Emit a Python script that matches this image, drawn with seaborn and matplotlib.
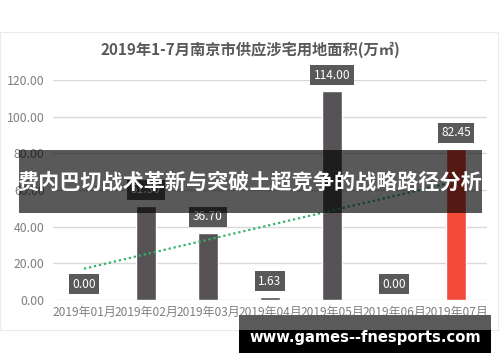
import numpy as np
import pandas as pd
import matplotlib
matplotlib.use("Agg")
import matplotlib.pyplot as plt
from matplotlib.patches import Rectangle
import seaborn as sns

months = ["2019年01月", "2019年02月", "2019年03月", "2019年04月",
          "2019年05月", "2019年06月", "2019年07月"]
values = [0.00, 51.30, 36.70, 1.63, 114.00, 0.00, 82.45]
bar_colors = ["#575256", "#575256", "#575256", "#575256",
              "#575256", "#575256", "#f44a3a"]
yticks = [0, 20, 40, 60, 80, 100, 120]
title = "2019年1-7月南京市供应涉宅用地面积(万㎡)"
banner = "费内巴切战术革新与突破土超竞争的战略路径分析"
watermark = "www.games--fnesports.com"

sns.set_theme(style="white")
plt.rcParams["font.family"] = ["Noto Sans CJK SC", "DejaVu Sans"]

df = pd.DataFrame({"month": months, "value": values})

fig = plt.figure(figsize=(5.0, 3.62), dpi=100)
ax = fig.add_axes([0.106, 0.1713, 0.868, 0.6077])

sns.barplot(data=df, x="month", y="value", hue="month", palette=bar_colors,
            legend=False, width=0.31, ax=ax, zorder=2, saturation=1)

# linear trendline (Excel-style)
xs = np.arange(len(values))
k, b = np.polyfit(xs, values, 1)
ax.plot([xs[0], xs[-1]], [k * xs[0] + b, k * xs[-1] + b], linestyle=(0, (1, 1.3)),
        color="#33b36b", lw=1.6, zorder=3)

ax.set_ylim(0, 120)
ax.set_xlim(-0.5, len(values) - 0.5)
ax.set_yticks(yticks)
ax.set_yticklabels([f"{v:.2f}" for v in yticks])
ax.yaxis.grid(True, color="#d9d9d9", lw=1.0, zorder=0)
ax.set_axisbelow(True)
for s in ax.spines.values():
    s.set_visible(False)
ax.set_xlabel("")
ax.set_ylabel("")
ax.tick_params(axis="y", labelsize=8.8, labelcolor="#7f7f7f", length=0, pad=6)
ax.tick_params(axis="x", labelsize=8.6, labelcolor="#7f7f7f", length=0, pad=4)

for i, v in enumerate(values):
    ax.annotate(f"{v:.2f}", xy=(i, v), xytext=(0, 11.5), textcoords="offset points",
                ha="center", va="center", color="white", fontsize=8.6,
                annotation_clip=False, zorder=5,
                bbox=dict(boxstyle="square,pad=0.3", fc="#595959", ec="none"))

# chart panel border
fig.patches.append(Rectangle((0.0, 0.0884), 0.996, 0.823, transform=fig.transFigure,
                             fill=False, ec="#ebebeb", lw=0.8, zorder=0))

fig.text(0.5, 0.862, title, ha="center", va="center", fontsize=11,
         fontweight="bold", color="#595959")

# banner overlay
fig.patches.append(Rectangle((0.038, 0.4116), 0.926, 0.174, transform=fig.transFigure,
                             fc="black", alpha=0.65, ec="none", zorder=10))
fig.text(0.5, 0.497, banner, ha="center", va="center", fontsize=15.2,
         fontweight="bold", color="white", zorder=11)

# watermark
fig.patches.append(Rectangle((0.478, 0.0884), 0.504, 0.0414, transform=fig.transFigure,
                             fc="#5a5a5a", ec="none", zorder=10))
fig.patches.append(Rectangle((0.478, 0.0249), 0.504, 0.0635, transform=fig.transFigure,
                             fc="black", ec="none", zorder=10))
fig.text(0.73, 0.069, watermark, ha="center", va="center", fontsize=10.6,
         fontweight="bold", color="white", family=["DejaVu Sans"], zorder=11)

fig.savefig("out.png", dpi=100)
